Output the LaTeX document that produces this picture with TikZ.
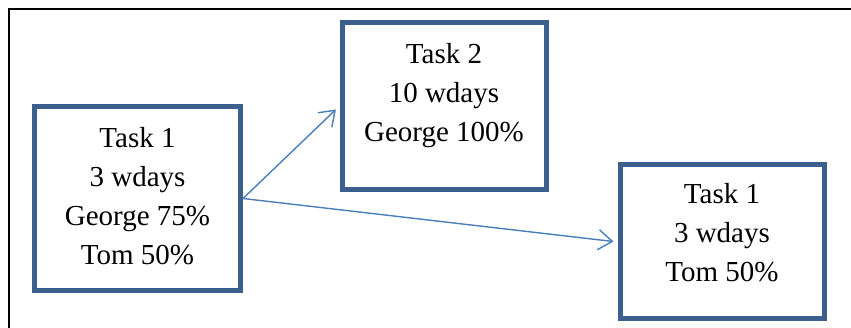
\documentclass[tikz,border=0pt]{standalone}
\usepackage{fontspec}
\setmainfont{Liberation Serif}
\usetikzlibrary{arrows.meta,positioning}
\definecolor{boxblue}{HTML}{3D5F8E}
\definecolor{arrowblue}{HTML}{4A7EBB}
\begin{document}
\begin{tikzpicture}[x=1pt,y=-1pt,
	taskbox/.style={draw=boxblue,line width=5pt,inner sep=0pt},
	tasktext/.style={inner sep=0pt,align=center,font=\fontsize{29}{39}\selectfont},
	flow/.style={draw=arrowblue,line width=1.4pt,-{Straight Barb[length=14pt,width=20pt]}}]
			\useasboundingbox (0,0) rectangle (851,328);
			\draw[line width=1.8pt] (9,328)--(9,9)--(851,9);
			\node[taskbox,minimum width=206pt,minimum height=184pt] (taskA) at (137.5,198.5) {};
			\node[taskbox,minimum width=204pt,minimum height=167pt] (taskB) at (444,106) {};
			\node[taskbox,minimum width=204pt,minimum height=154pt] (taskC) at (722,242) {};
			\node[tasktext,below=23pt of taskA.north] (textA) {Task 1\\3 wdays\\George 75\%\\Tom 50\%};
			\node[tasktext,below=23pt of taskB.north] (textB) {Task 2\\10 wdays\\George 100\%};
			\node[tasktext,below=21pt of taskC.north] (textC) {Task 1\\3 wdays\\Tom 50\%};
			\draw[flow,shorten >=5pt] (taskA.east)--(taskB.west);
			\draw[flow,shorten >=4pt] (taskA.east)--(taskC.west);
		\end{tikzpicture}
\end{document}
